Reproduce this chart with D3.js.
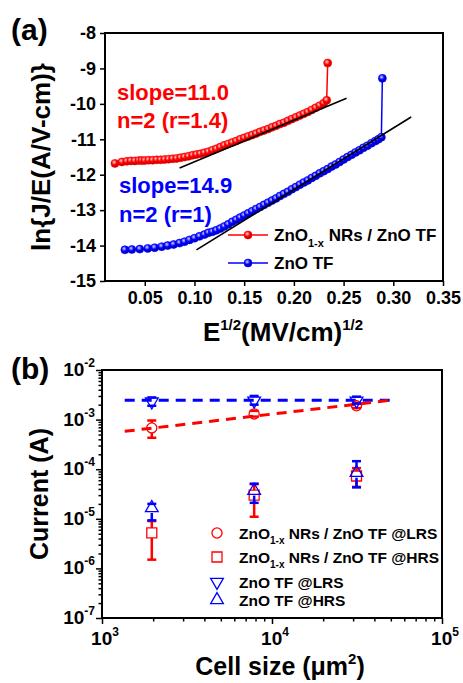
<!DOCTYPE html>
<html>
<head>
<meta charset="utf-8">
<script src="https://cdn.jsdelivr.net/npm/d3@7/dist/d3.min.js"></script>
<style>
  body { margin: 0; background: #fff; }
  text { font-family: Arial, "Liberation Sans", sans-serif; font-weight: bold; }
</style>
</head>
<body>
<div id="fig"></div>
<script>
// ---- panel (a) data: ln(J/E) vs E^1/2 ----
var redE = [0.020, 0.027, 0.032, 0.036, 0.040, 0.044, 0.047, 0.050, 0.054, 0.058, 0.062, 0.066,
  0.070, 0.074, 0.078, 0.082, 0.086, 0.090, 0.094, 0.098, 0.102, 0.106, 0.110, 0.114, 0.118,
  0.122, 0.126, 0.130, 0.134, 0.138, 0.142, 0.146, 0.150, 0.154, 0.158, 0.162, 0.166, 0.170,
  0.174, 0.178, 0.182, 0.186, 0.190, 0.194, 0.198, 0.202, 0.206, 0.210, 0.214, 0.218, 0.222,
  0.226, 0.230, 0.233, 0.234];
var redLnJE = [-11.68, -11.64, -11.62, -11.61, -11.61, -11.60, -11.60, -11.60, -11.59, -11.59, -11.58, -11.58,
  -11.57, -11.56, -11.55, -11.54, -11.52, -11.50, -11.48, -11.45, -11.43, -11.41, -11.38, -11.35, -11.31,
  -11.27, -11.22, -11.17, -11.13, -11.09, -11.05, -11.00, -10.96, -10.92, -10.88, -10.84, -10.79, -10.75,
  -10.71, -10.66, -10.62, -10.57, -10.53, -10.48, -10.43, -10.38, -10.33, -10.28, -10.23, -10.17, -10.11,
  -10.05, -9.98, -9.90, -8.85];

var blueE = [0.030, 0.037, 0.045, 0.053, 0.060, 0.067, 0.073, 0.079, 0.085, 0.090, 0.095, 0.100,
  0.105, 0.110, 0.114, 0.118, 0.122, 0.126, 0.130, 0.134, 0.138, 0.142, 0.146, 0.150, 0.154,
  0.158, 0.162, 0.166, 0.170, 0.174, 0.178, 0.182, 0.186, 0.190, 0.194, 0.198, 0.202, 0.206,
  0.210, 0.214, 0.218, 0.222, 0.226, 0.230, 0.234, 0.238, 0.242, 0.246, 0.250, 0.254, 0.258,
  0.262, 0.266, 0.270, 0.274, 0.278, 0.282, 0.285, 0.288, 0.289];
var blueLnJE = [-14.12, -14.11, -14.10, -14.08, -14.06, -14.03, -14.00, -13.97, -13.93, -13.89, -13.84, -13.79,
  -13.74, -13.69, -13.64, -13.61, -13.57, -13.52, -13.46, -13.40, -13.33, -13.27, -13.21, -13.15, -13.09,
  -13.03, -12.97, -12.91, -12.85, -12.79, -12.73, -12.67, -12.60, -12.54, -12.48, -12.41, -12.35, -12.28,
  -12.22, -12.16, -12.09, -12.03, -11.96, -11.90, -11.84, -11.77, -11.71, -11.64, -11.57, -11.50, -11.44,
  -11.37, -11.31, -11.24, -11.18, -11.11, -11.05, -11.00, -10.94, -9.28];

// black linear fits (end points)
var redFitE = [0.085, 0.253], redFitY = [-11.81, -9.84];
var blueFitE = [0.102, 0.318], blueFitY = [-14.12, -10.37];

var xTicksA = [0.05, 0.10, 0.15, 0.20, 0.25, 0.30, 0.35];
var yTicksA = [-15, -14, -13, -12, -11, -10, -9, -8];

// ---- panel (b) data: current vs cell size ----
var cellSize = [1963, 7854, 31416];
var nrLrs = [6.8e-4, 1.3e-3, 1.9e-3], nrLrsLo = [4.3e-4, 1.15e-3, 1.7e-3], nrLrsHi = [9.6e-4, 1.5e-3, 2.15e-3];
var nrHrs = [5.2e-6, 3.0e-5, 7.3e-5], nrHrsLo = [1.5e-6, 1.1e-5, 4.4e-5], nrHrsHi = [9.0e-6, 5.0e-5, 1.05e-4];
var tfLrs = [2.3e-3, 2.4e-3, 2.4e-3], tfLrsLo = [1.9e-3, 2.0e-3, 2.1e-3], tfLrsHi = [2.8e-3, 3.0e-3, 2.9e-3];
var tfHrs = [1.65e-5, 3.7e-5, 8.5e-5], tfHrsLo = [9.3e-6, 2.1e-5, 4.3e-5], tfHrsHi = [2.0e-5, 5.1e-5, 1.45e-4];

// dashed guide lines
var tfFitX = [1360, 52000], tfFitY = [2.45e-3, 2.45e-3];
var nrFitX = [1360, 52000], nrFitY = [5.8e-4, 2.5e-3];

var xExpB = [3, 4, 5];
var yExpB = [-7, -6, -5, -4, -3, -2];

var RED = "#ff0000", BLUE = "#0000ff";

var svg = d3.select("#fig").append("svg")
  .attr("width", 463)
  .attr("height", 683);
svg.append("rect").attr("width", 463).attr("height", 683).attr("fill", "#fff");

// sphere look for the panel (a) markers
var defs = svg.append("defs");
[["gRed", "#ffd6d6", RED, "#c00000"], ["gBlue", "#d6d6ff", BLUE, "#0000b0"]].forEach(function (g) {
  var rg = defs.append("radialGradient").attr("id", g[0])
    .attr("cx", "40%").attr("cy", "35%").attr("r", "60%");
  rg.append("stop").attr("offset", "0%").attr("stop-color", g[1]);
  rg.append("stop").attr("offset", "55%").attr("stop-color", g[2]);
  rg.append("stop").attr("offset", "100%").attr("stop-color", g[3]);
});

function styleAxis(g) {
  g.select(".domain").remove();
  g.selectAll(".tick line").attr("stroke", "#000").attr("stroke-width", 1.5);
  g.selectAll("text").attr("fill", "#000");
}

// ================= panel (a) =================
var xA = d3.scaleLinear().domain([0.01, 0.35]).range([105, 443]);
var yA = d3.scaleLinear().domain([-15, -8]).range([281, 33]);

var axA = svg.append("g")
  .attr("transform", "translate(0,281)")
  .call(d3.axisBottom(xA).tickValues(xTicksA).tickSize(5).tickPadding(5).tickFormat(d3.format(".2f")));
styleAxis(axA);
axA.selectAll("text").attr("font-size", 18);

// plain hyphen for the minus, like the original
var ayA = svg.append("g")
  .attr("transform", "translate(105,0)")
  .call(d3.axisLeft(yA).tickValues(yTicksA).tickSize(5).tickPadding(4)
    .tickFormat(function (d) { return String(d); }));
styleAxis(ayA);
ayA.selectAll("text").attr("font-size", 18);

svg.append("rect")
  .attr("x", 105).attr("y", 33).attr("width", 338).attr("height", 248)
  .attr("fill", "none").attr("stroke", "#000").attr("stroke-width", 2);

var lineA = d3.line().x(function (d) { return xA(d[0]); }).y(function (d) { return yA(d[1]); });

function drawSeriesA(xs, ys, color, grad) {
  var pts = xs.map(function (x, i) { return [x, ys[i]]; });
  svg.append("path").datum(pts)
    .attr("d", lineA).attr("fill", "none").attr("stroke", color).attr("stroke-width", 1.5);
  svg.append("g").selectAll("circle").data(pts).enter().append("circle")
    .attr("cx", function (d) { return xA(d[0]); })
    .attr("cy", function (d) { return yA(d[1]); })
    .attr("r", 4)
    .attr("fill", "url(#" + grad + ")")
    .attr("stroke", color).attr("stroke-width", 0.6);
}
drawSeriesA(redE, redLnJE, RED, "gRed");
drawSeriesA(blueE, blueLnJE, BLUE, "gBlue");

// fit lines
[[redFitE, redFitY], [blueFitE, blueFitY]].forEach(function (f) {
  svg.append("path").datum([[f[0][0], f[1][0]], [f[0][1], f[1][1]]])
    .attr("d", lineA).attr("fill", "none").attr("stroke", "#000").attr("stroke-width", 1.6);
});

// slope labels
var notes = [
  ["slope=11.0", 117, 100, RED], ["n=2 (r=1.4)", 117, 128, RED],
  ["slope=14.9", 119, 193, BLUE], ["n=2 (r=1)", 119, 222, BLUE]
];
notes.forEach(function (n) {
  svg.append("text").attr("x", n[1]).attr("y", n[2]).attr("fill", n[3])
    .attr("font-size", 22).text(n[0]);
});

// legend (a)
[[RED, "gRed", 235, true], [BLUE, "gBlue", 263, false]].forEach(function (l) {
  svg.append("line").attr("x1", 228).attr("x2", 268).attr("y1", l[2]).attr("y2", l[2])
    .attr("stroke", l[0]).attr("stroke-width", 1.5);
  svg.append("circle").attr("cx", 248).attr("cy", l[2]).attr("r", 4)
    .attr("fill", "url(#" + l[1] + ")").attr("stroke", l[0]).attr("stroke-width", 0.6);
  var t = svg.append("text").attr("x", 274).attr("y", l[2] + 6).attr("font-size", 17);
  if (l[3]) {
    t.append("tspan").text("ZnO");
    t.append("tspan").attr("font-size", 11).attr("dy", 6).text("1-x");
    t.append("tspan").attr("dy", -6).text(" NRs / ZnO TF");
  } else {
    t.text("ZnO TF");
  }
});

// axis titles (a)
var xtA = svg.append("text").attr("x", 283).attr("y", 341).attr("text-anchor", "middle").attr("font-size", 26);
xtA.append("tspan").text("E");
xtA.append("tspan").attr("font-size", 15).attr("dy", -11).text("1/2");
xtA.append("tspan").attr("dy", 11).text("(MV/cm)");
xtA.append("tspan").attr("font-size", 15).attr("dy", -11).text("1/2");

svg.append("text")
  .attr("transform", "translate(50,157) rotate(-90)")
  .attr("text-anchor", "middle").attr("font-size", 26)
  .text("ln{J/E(A/V-cm)}");

svg.append("text").attr("x", 11).attr("y", 40).attr("font-size", 30).text("(a)");

// ================= panel (b) =================
var xB = d3.scaleLog().domain([1e3, 1e5]).range([102, 442]);
var yB = d3.scaleLog().domain([1e-7, 1e-2]).range([618, 370]);

var majorX = xExpB.map(function (e) { return Math.pow(10, e); });
var majorY = yExpB.map(function (e) { return Math.pow(10, e); });
var minorX = xB.ticks().filter(function (v) { return majorX.indexOf(v) < 0; });
var minorY = yB.ticks().filter(function (v) { return majorY.every(function (m) { return Math.abs(m - v) / m > 1e-6; }); });

var bx = svg.append("g").attr("transform", "translate(0,618)");
bx.append("g").call(d3.axisBottom(xB).tickValues(majorX).tickSize(6).tickFormat(""));
bx.append("g").call(d3.axisBottom(xB).tickValues(minorX).tickSize(3.5).tickFormat(""));
bx.selectAll("g").each(function () { styleAxis(d3.select(this)); });

var by = svg.append("g").attr("transform", "translate(102,0)");
by.append("g").call(d3.axisLeft(yB).tickValues(majorY).tickSize(6).tickFormat(""));
by.append("g").call(d3.axisLeft(yB).tickValues(minorY).tickSize(3.5).tickFormat(""));
by.selectAll("g").each(function () { styleAxis(d3.select(this)); });

// power-of-ten labels
xExpB.forEach(function (e) {
  var t = svg.append("text").attr("x", xB(Math.pow(10, e)) + 3).attr("y", 645)
    .attr("text-anchor", "middle").attr("font-size", 19);
  t.append("tspan").text("10");
  t.append("tspan").attr("font-size", 12).attr("dy", -9).text(e);
});
yExpB.forEach(function (e) {
  var t = svg.append("text").attr("x", 95).attr("y", yB(Math.pow(10, e)) + 6)
    .attr("text-anchor", "end").attr("font-size", 19);
  t.append("tspan").text("10");
  t.append("tspan").attr("font-size", 12).attr("dy", -9).text(e);
});

svg.append("rect")
  .attr("x", 102).attr("y", 370).attr("width", 340).attr("height", 248)
  .attr("fill", "none").attr("stroke", "#000").attr("stroke-width", 2);

// dashed guides
var lineB = d3.line().x(function (d) { return xB(d[0]); }).y(function (d) { return yB(d[1]); });
[[tfFitX, tfFitY, BLUE], [nrFitX, nrFitY, RED]].forEach(function (f) {
  svg.append("path").datum([[f[0][0], f[1][0]], [f[0][1], f[1][1]]])
    .attr("d", lineB).attr("fill", "none").attr("stroke", f[2])
    .attr("stroke-width", 3).attr("stroke-dasharray", "10,7");
});

var symCircle = d3.symbol().type(d3.symbolCircle).size(80)();
var symSquare = d3.symbol().type(d3.symbolSquare).size(100)();
var symTri = d3.symbol().type(d3.symbolTriangle).size(70)();

var seriesB = [
  { v: nrHrs, lo: nrHrsLo, hi: nrHrsHi, color: RED, sym: symSquare, rot: 0 },
  { v: nrLrs, lo: nrLrsLo, hi: nrLrsHi, color: RED, sym: symCircle, rot: 0 },
  { v: tfHrs, lo: tfHrsLo, hi: tfHrsHi, color: BLUE, sym: symTri, rot: 0 },
  { v: tfLrs, lo: tfLrsLo, hi: tfLrsHi, color: BLUE, sym: symTri, rot: 180 }
];

seriesB.forEach(function (s) {
  var g = svg.append("g");
  cellSize.forEach(function (c, i) {
    var cx = xB(c), cy = yB(s.v[i]), yl = yB(s.lo[i]), yh = yB(s.hi[i]);
    // bar pieces stop at the marker edge
    if (yh < cy - 5) g.append("line").attr("x1", cx).attr("x2", cx).attr("y1", yh).attr("y2", cy - 5)
      .attr("stroke", s.color).attr("stroke-width", 2.5);
    if (yl > cy + 5) g.append("line").attr("x1", cx).attr("x2", cx).attr("y1", cy + 5).attr("y2", yl)
      .attr("stroke", s.color).attr("stroke-width", 2.5);
    [yl, yh].forEach(function (yy) {
      g.append("line").attr("x1", cx - 4.5).attr("x2", cx + 4.5).attr("y1", yy).attr("y2", yy)
        .attr("stroke", s.color).attr("stroke-width", 2.5);
    });
    g.append("path").attr("d", s.sym)
      .attr("transform", "translate(" + cx + "," + cy + ") rotate(" + s.rot + ")")
      .attr("fill", "none").attr("stroke", s.color).attr("stroke-width", 1.3);
  });
});

// legend (b)
var legB = [
  { sym: symCircle, rot: 0, color: RED, y: 533, sub: true, tail: " NRs / ZnO TF @LRS" },
  { sym: symSquare, rot: 0, color: RED, y: 557, sub: true, tail: " NRs / ZnO TF @HRS" },
  { sym: symTri, rot: 180, color: BLUE, y: 582, sub: false, tail: "ZnO TF @LRS" },
  { sym: symTri, rot: 0, color: BLUE, y: 600, sub: false, tail: "ZnO TF @HRS" }
];
legB.forEach(function (l) {
  svg.append("path").attr("d", l.sym)
    .attr("transform", "translate(217," + l.y + ") rotate(" + l.rot + ")")
    .attr("fill", "none").attr("stroke", l.color).attr("stroke-width", 1.3);
  var t = svg.append("text").attr("x", 239).attr("y", l.y + 5.5).attr("font-size", 15.5);
  if (l.sub) {
    t.append("tspan").text("ZnO");
    t.append("tspan").attr("font-size", 10).attr("dy", 5).text("1-x");
    t.append("tspan").attr("dy", -5).text(l.tail);
  } else {
    t.text(l.tail);
  }
});

// axis titles (b)
var xtB = svg.append("text").attr("x", 280).attr("y", 675).attr("text-anchor", "middle").attr("font-size", 25);
xtB.append("tspan").text("Cell size (\u03bcm");
xtB.append("tspan").attr("font-size", 15).attr("dy", -11).text("2");
xtB.append("tspan").attr("dy", 11).text(")");

svg.append("text")
  .attr("transform", "translate(48,494) rotate(-90)")
  .attr("text-anchor", "middle").attr("font-size", 25)
  .text("Current (A)");

svg.append("text").attr("x", 11).attr("y", 379).attr("font-size", 30).text("(b)");
</script>
</body>
</html>
